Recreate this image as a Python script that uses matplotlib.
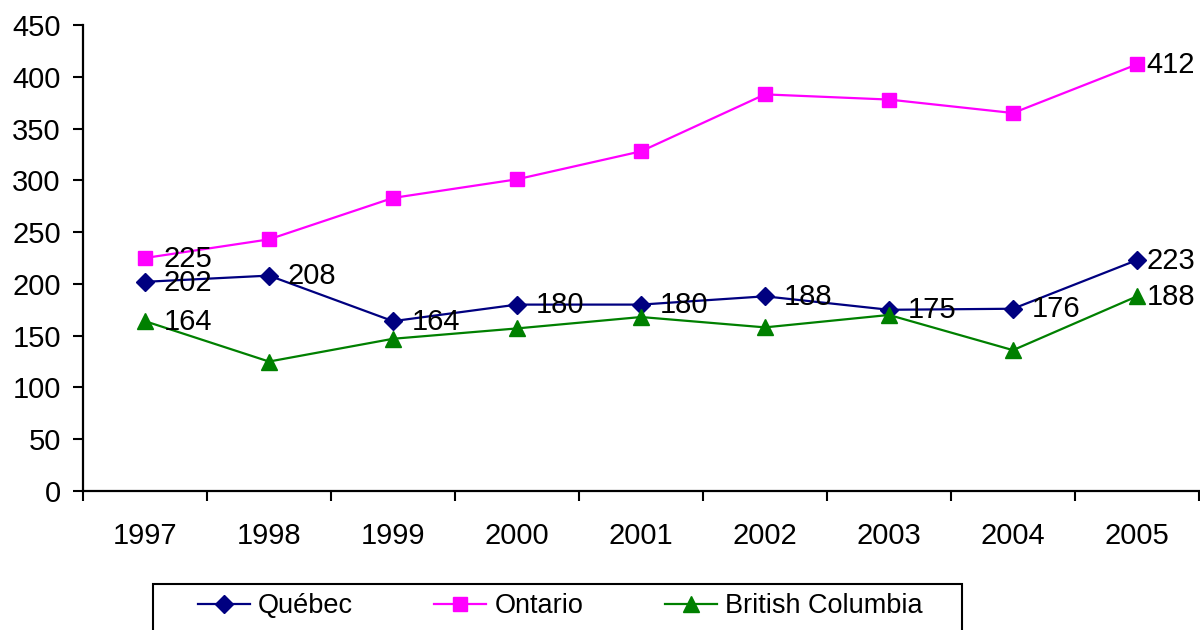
import matplotlib
matplotlib.use("Agg")
import matplotlib.pyplot as plt
from matplotlib.patches import Rectangle

# ---------------------------------------------------------------
# Data
# ---------------------------------------------------------------
years = ["1997", "1998", "1999", "2000", "2001", "2002", "2003", "2004", "2005"]

quebec = [202, 208, 164, 180, 180, 188, 175, 176, 223]
ontario = [225, 243, 283, 301, 328, 383, 378, 365, 412]
british_columbia = [164, 125, 147, 157, 168, 158, 170, 136, 188]

# which points carry a value label
quebec_labels = [0, 1, 2, 3, 4, 5, 6, 7, 8]
ontario_labels = [0, 8]
bc_labels = [0, 8]

yticks = [0, 50, 100, 150, 200, 250, 300, 350, 400, 450]

plt.rcParams['font.family'] = ['Liberation Sans', 'DejaVu Sans']

fig = plt.figure(figsize=(12, 6.3), dpi=100)
ax = fig.add_axes([83 / 1200, 1 - 491 / 630, 1116 / 1200, 466 / 630])

x = list(range(len(years)))

series = [
    ("Québec", quebec, quebec_labels, "#000080", "D", 9.5),
    ("Ontario", ontario, ontario_labels, "#FF00FF", "s", 10.5),
    ("British Columbia", british_columbia, bc_labels, "#008000", "^", 11.5),
]

handles = []
for name, vals, lab_idx, col, mk, ms in series:
    h, = ax.plot(x, vals, color=col, marker=mk, markersize=ms, lw=1.6,
                 markeredgecolor=col, markerfacecolor=col, label=name,
                 clip_on=False, zorder=3)
    handles.append(h)
    for i in lab_idx:
        # last point sits at the edge, so its label hugs the marker
        off = 7 if i == len(x) - 1 else 13.5
        ax.annotate(str(vals[i]), (x[i], vals[i]), xytext=(off, -0.5),
                    textcoords="offset points", ha="left", va="center",
                    fontsize=21, color="black", zorder=4)

ax.set_xlim(-0.5, len(years) - 0.5)
ax.set_ylim(0, 450)
ax.set_yticks(yticks)
ax.tick_params(axis="y", labelsize=21, length=7, width=1.5, pad=9)

# category labels centred, tick marks between categories
ax.set_xticks([i - 0.5 for i in range(len(years) + 1)])
ax.set_xticklabels([])
ax.set_xticks(x, minor=True)
ax.set_xticklabels(years, minor=True)
ax.tick_params(axis="x", which="major", length=7, width=1.5)
ax.tick_params(axis="x", which="minor", length=0, labelsize=21, pad=22)

for s in ["top", "right"]:
    ax.spines[s].set_visible(False)
for s in ["left", "bottom"]:
    ax.spines[s].set_linewidth(1.6)

# legend frame runs past the bottom of the picture
fig.patches.append(Rectangle((153 / 1200, -0.05), (962 - 153) / 1200,
                             1 - 584 / 630 + 0.05, transform=fig.transFigure,
                             fill=False, edgecolor="black", lw=1.5))
fig.legend(handles=handles, loc="center left",
           bbox_to_anchor=(198 / 1200, 1 - 606 / 630), ncol=3, frameon=False,
           fontsize=19.5, handlelength=1.92, handletextpad=0.3,
           columnspacing=3.0, borderpad=0, borderaxespad=0)

fig.savefig("out.png", dpi=100)
